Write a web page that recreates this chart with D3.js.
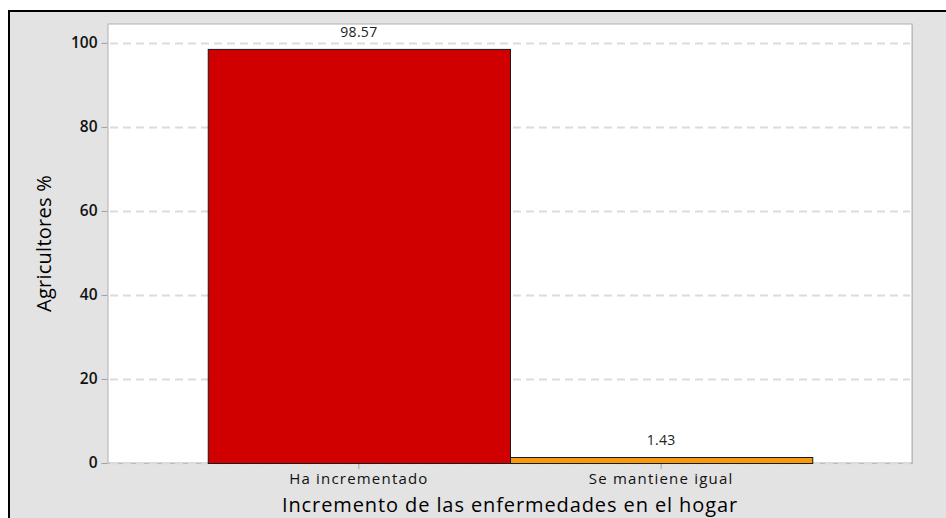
<!DOCTYPE html>
<html>
<head>
<meta charset="utf-8">
<script src="https://cdn.jsdelivr.net/npm/d3@7/dist/d3.min.js"></script>
<style>
  html, body { margin: 0; padding: 0; background: #ffffff; }
  svg { display: block; }
</style>
</head>
<body>
<svg id="chart" width="946" height="518"></svg>
<script>
const categories = ["Ha incrementado", "Se mantiene igual"];
const values = [98.57, 1.43];
const valueLabels = ["98.57", "1.43"];
const barColors = ["#d10000", "#f39a0c"];
const yTicks = [0, 20, 40, 60, 80, 100];
const xTitle = "Incremento de las enfermedades en el hogar";
const yTitle = "Agricultores %";

const W = 946, H = 518;
const plot = { left: 108, right: 912, top: 24, bottom: 463 };
const svg = d3.select("#chart");

// outer frame
svg.append("rect").attr("x", 9).attr("y", 11).attr("width", W - 9).attr("height", H - 11)
  .attr("fill", "#e3e3e3");
svg.append("line").attr("x1", 8).attr("x2", W).attr("y1", 11).attr("y2", 11)
  .attr("stroke", "#000").attr("stroke-width", 2);
svg.append("line").attr("x1", 9).attr("x2", 9).attr("y1", 10).attr("y2", H)
  .attr("stroke", "#000").attr("stroke-width", 2);

// plot area with shadow
svg.append("rect").attr("x", plot.left + 1).attr("y", plot.top + 1)
  .attr("width", plot.right - plot.left).attr("height", plot.bottom - plot.top)
  .attr("fill", "#c8c8c8");
svg.append("rect").attr("x", plot.left).attr("y", plot.top)
  .attr("width", plot.right - plot.left).attr("height", plot.bottom - plot.top)
  .attr("fill", "#ffffff").attr("stroke", "#b0b0b0").attr("stroke-width", 1);

const x = d3.scaleBand().domain(categories).range([plot.left, plot.right])
  .paddingInner(0).paddingOuter(0.33);
const y = d3.scaleLinear().domain([0, 104.5]).range([plot.bottom, plot.top]);

// gridlines
svg.append("g").selectAll("line").data(yTicks).join("line")
  .attr("x1", plot.left + 2).attr("x2", plot.right - 2)
  .attr("y1", d => Math.round(y(d)) + 0.5).attr("y2", d => Math.round(y(d)) + 0.5)
  .attr("stroke", "#dcdcdc").attr("stroke-width", 2).attr("stroke-dasharray", "8,5");

// bars
svg.append("g").selectAll("rect").data(values).join("rect")
  .attr("x", (d, i) => x(categories[i]) + 0.5)
  .attr("y", d => y(d) + 0.5)
  .attr("width", x.bandwidth())
  .attr("height", d => y(0) - y(d))
  .attr("fill", (d, i) => barColors[i])
  .attr("stroke", "#1a1a1a").attr("stroke-width", 1);

// value labels
svg.append("g").selectAll("text").data(values).join("text")
  .attr("x", (d, i) => x(categories[i]) + x.bandwidth() / 2)
  .attr("y", d => y(d) - 12)
  .attr("text-anchor", "middle")
  .attr("font-family", "'Open Sans', sans-serif").attr("font-size", 14)
  .attr("letter-spacing", 0.3)
  .attr("fill", "#222")
  .text((d, i) => valueLabels[i]);

// y axis
const yAxis = d3.axisLeft(y).tickValues(yTicks).tickSize(6).tickPadding(4).tickFormat(d3.format("d"));
const gy = svg.append("g").attr("transform", `translate(${plot.left - 0.5},0)`).call(yAxis);
gy.select(".domain").remove();
gy.selectAll(".tick line").attr("stroke", "#a0a0a0");
gy.selectAll(".tick text").attr("font-family", "'Open Sans', sans-serif")
  .attr("font-size", 15.5).attr("font-weight", 600).attr("fill", "#111");

// x axis
const xAxis = d3.axisBottom(x).tickSize(5).tickPadding(4);
const gx = svg.append("g").attr("transform", `translate(0,${plot.bottom + 1})`).call(xAxis);
gx.select(".domain").remove();
gx.selectAll(".tick line").attr("stroke", "#a0a0a0");
gx.selectAll(".tick text").attr("font-family", "'Open Sans', sans-serif")
  .attr("font-size", 15).attr("letter-spacing", 1.2).attr("fill", "#111");

// titles
svg.append("text").attr("x", (plot.left + plot.right) / 2).attr("y", 512)
  .attr("text-anchor", "middle")
  .attr("font-family", "'Open Sans', sans-serif").attr("font-size", 20)
  .attr("letter-spacing", 0.9)
  .attr("fill", "#000").text(xTitle);
svg.append("text")
  .attr("transform", `translate(51,${(plot.top + plot.bottom) / 2}) rotate(-90)`)
  .attr("text-anchor", "middle")
  .attr("font-family", "'Open Sans', sans-serif").attr("font-size", 20)
  .attr("letter-spacing", 0.25)
  .attr("fill", "#000").text(yTitle);
</script>
</body>
</html>
